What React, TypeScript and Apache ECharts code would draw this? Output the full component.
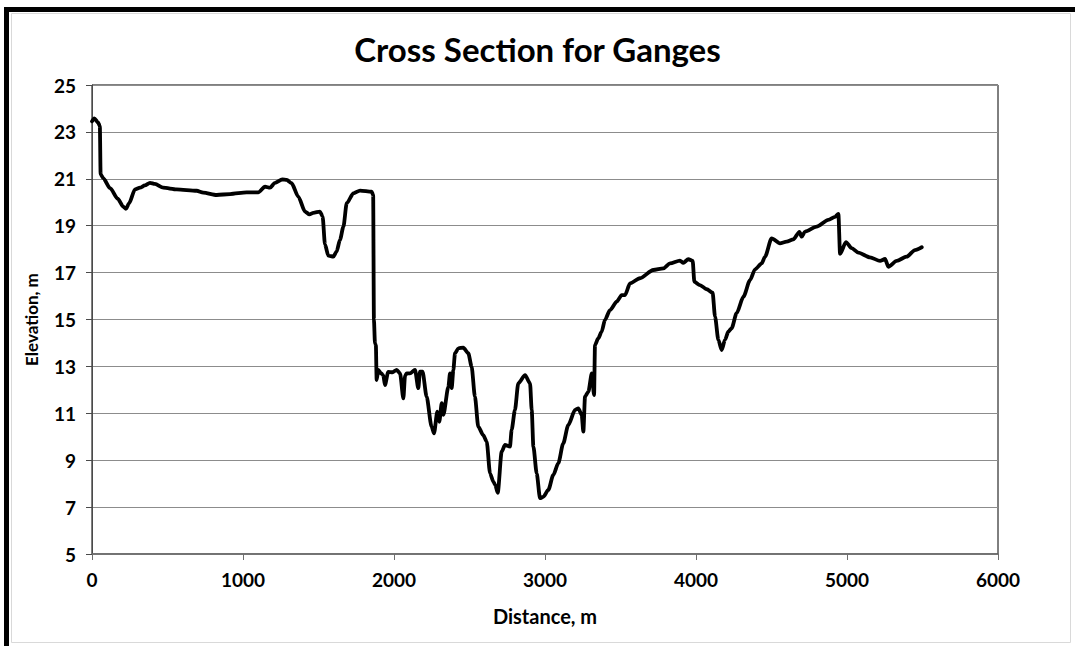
import React, { useEffect, useRef } from "react";
import * as echarts from "echarts";

const titleText = "Cross Section for Ganges";
const xAxisName = "Distance, m";
const yAxisName = "Elevation, m";

const distance = [
  0, 15, 40, 52, 57, 75, 120, 170, 207, 225, 245, 285, 318, 350, 384, 417, 472, 561, 693, 737,
  826, 914, 1024, 1101, 1146, 1179, 1212, 1260, 1290, 1322, 1366, 1411, 1440, 1466, 1510, 1527,
  1543, 1565, 1598, 1620, 1642, 1665, 1687, 1731, 1775, 1852, 1862, 1867, 1874, 1880, 1885, 1896,
  1915, 1929, 1940, 1962, 1990, 2018, 2040, 2062, 2073, 2084, 2106, 2139, 2161, 2172, 2189, 2216,
  2249, 2265, 2287, 2300, 2316, 2327, 2360, 2371, 2382, 2393, 2404, 2426, 2459, 2492, 2514, 2536,
  2558, 2591, 2614, 2636, 2658, 2670, 2687, 2713, 2735, 2768, 2779, 2801, 2823, 2868, 2901, 2912,
  2923, 2945, 2967, 2989, 3022, 3055, 3088, 3121, 3154, 3199, 3221, 3243, 3254, 3265, 3287, 3310,
  3325, 3331, 3353, 3375, 3397, 3430, 3475, 3508, 3530, 3563, 3629, 3717, 3784, 3828, 3894, 3916,
  3949, 3978, 3989, 4026, 4071, 4110, 4126, 4148, 4170, 4192, 4214, 4236, 4269, 4314, 4358, 4391,
  4435, 4457, 4501, 4556, 4600, 4645, 4685, 4700, 4722, 4799, 4876, 4921, 4943, 4954, 4993, 5031,
  5075, 5152, 5219, 5252, 5274, 5329, 5395, 5450, 5495,
];

const elevation = [
  23.45, 23.58, 23.4, 23.25, 21.2, 21.02, 20.6, 20.15, 19.81, 19.72, 19.95, 20.55, 20.62, 20.72,
  20.83, 20.78, 20.62, 20.55, 20.49, 20.41, 20.31, 20.35, 20.42, 20.42, 20.66, 20.62, 20.83, 20.97,
  20.95, 20.81, 20.24, 19.6, 19.48, 19.55, 19.6, 19.4, 18.2, 17.72, 17.68, 17.9, 18.39, 18.96,
  19.96, 20.38, 20.5, 20.45, 20.3, 15.0, 13.98, 13.9, 12.42, 12.85, 12.7, 12.63, 12.2, 12.77, 12.75,
  12.85, 12.7, 11.64, 12.6, 12.7, 12.7, 12.85, 12.07, 12.78, 12.78, 11.71, 10.43, 10.15, 11.07,
  10.64, 11.43, 10.93, 12.13, 12.7, 12.07, 12.85, 13.56, 13.77, 13.8, 13.56, 12.99, 11.71, 10.43,
  10.07, 9.79, 8.44, 8.08, 7.95, 7.61, 9.36, 9.65, 9.58, 10.29, 11.14, 12.28, 12.63, 12.28, 11.14,
  9.58, 8.44, 7.38, 7.44, 7.73, 8.37, 8.87, 9.72, 10.5, 11.14, 11.21, 10.93, 10.22, 11.71, 11.92,
  12.7, 11.78, 13.91, 14.2, 14.48, 14.98, 15.4, 15.76, 16.04, 16.04, 16.54, 16.76, 17.11, 17.18,
  17.39, 17.51, 17.42, 17.57, 17.5, 16.61, 16.47, 16.29, 16.14, 15.12, 14.13, 13.7, 14.13, 14.48,
  14.63, 15.27, 15.97, 16.68, 17.14, 17.39, 17.68, 18.46, 18.25, 18.32, 18.42, 18.74, 18.53, 18.75,
  18.96, 19.25, 19.38, 19.5, 17.8, 18.3, 18.04, 17.85, 17.65, 17.5, 17.58, 17.25, 17.5, 17.68,
  17.96, 18.08,
];

const xMin = 0;
const xMax = 6000;
const xStep = 1000;
const yMin = 5;
const yMax = 25;
const yStep = 2;

const FONT = "Lato, 'Open Sans', sans-serif";

export default function App() {
  const ref = useRef<HTMLDivElement>(null);

  useEffect(() => {
    if (!ref.current) return;
    const chart = echarts.init(ref.current, null, { renderer: "svg" });
    const points = distance.map((d, i) => [d, elevation[i]]);
    chart.setOption({
      animation: false,
      backgroundColor: "#ffffff",
      title: {
        text: titleText,
        left: "center",
        top: 27,
        textStyle: { fontFamily: FONT, fontWeight: "bold", fontSize: 33, color: "#000" },
      },
      grid: {
        left: 92,
        top: 85,
        right: 77,
        bottom: 92,
        show: true,
        borderColor: "#000",
        borderWidth: 1,
        backgroundColor: "transparent",
      },
      graphic: [
        { type: "rect", shape: { x: 4, y: 7, width: 1071, height: 5 }, style: { fill: "#000" }, silent: true },
        { type: "rect", shape: { x: 4, y: 7, width: 5, height: 639 }, style: { fill: "#000" }, silent: true },
        {
          type: "rect",
          shape: { x: 11.5, y: 13.5, width: 1059, height: 629 },
          style: { fill: "none", stroke: "#d9d9d9", lineWidth: 1 },
          silent: true,
        },
      ],
      xAxis: {
        type: "value",
        min: xMin,
        max: xMax,
        interval: xStep,
        name: xAxisName,
        nameLocation: "middle",
        nameGap: 52,
        nameTextStyle: { fontFamily: FONT, fontWeight: "bold", fontSize: 20, color: "#000" },
        axisLine: { show: true, onZero: false, lineStyle: { color: "#6e6e6e", width: 1.5 } },
        axisTick: { show: true, length: 6, lineStyle: { color: "#6e6e6e" } },
        axisLabel: {
          margin: 16,
          fontFamily: FONT,
          fontWeight: "bold",
          fontSize: 19,
          color: "#000",
          formatter: (v: number) => String(v),
        },
        splitLine: { show: false },
      },
      yAxis: {
        type: "value",
        min: yMin,
        max: yMax,
        interval: yStep,
        name: yAxisName,
        nameLocation: "middle",
        nameGap: 52,
        nameTextStyle: { fontFamily: FONT, fontWeight: "bold", fontSize: 17, color: "#000" },
        axisLine: { show: true, lineStyle: { color: "#4a4a4a", width: 1 } },
        axisTick: { show: true, length: 6, lineStyle: { color: "#4a4a4a" } },
        axisLabel: { margin: 16, fontFamily: FONT, fontWeight: "bold", fontSize: 19, color: "#000" },
        splitLine: { show: true, lineStyle: { color: "#8c8c8c", width: 1 } },
      },
      series: [
        {
          type: "line",
          data: points,
          showSymbol: false,
          symbol: "none",
          smooth: 0.25,
          smoothMonotone: "x",
          lineStyle: { color: "#000", width: 3.8, join: "round", cap: "round" },
        },
      ],
    });
    return () => chart.dispose();
  }, []);

  return (
    <div
      ref={ref}
      style={{ position: "absolute", left: 0, top: 0, width: 1075, height: 646, background: "#fff" }}
    />
  );
}
